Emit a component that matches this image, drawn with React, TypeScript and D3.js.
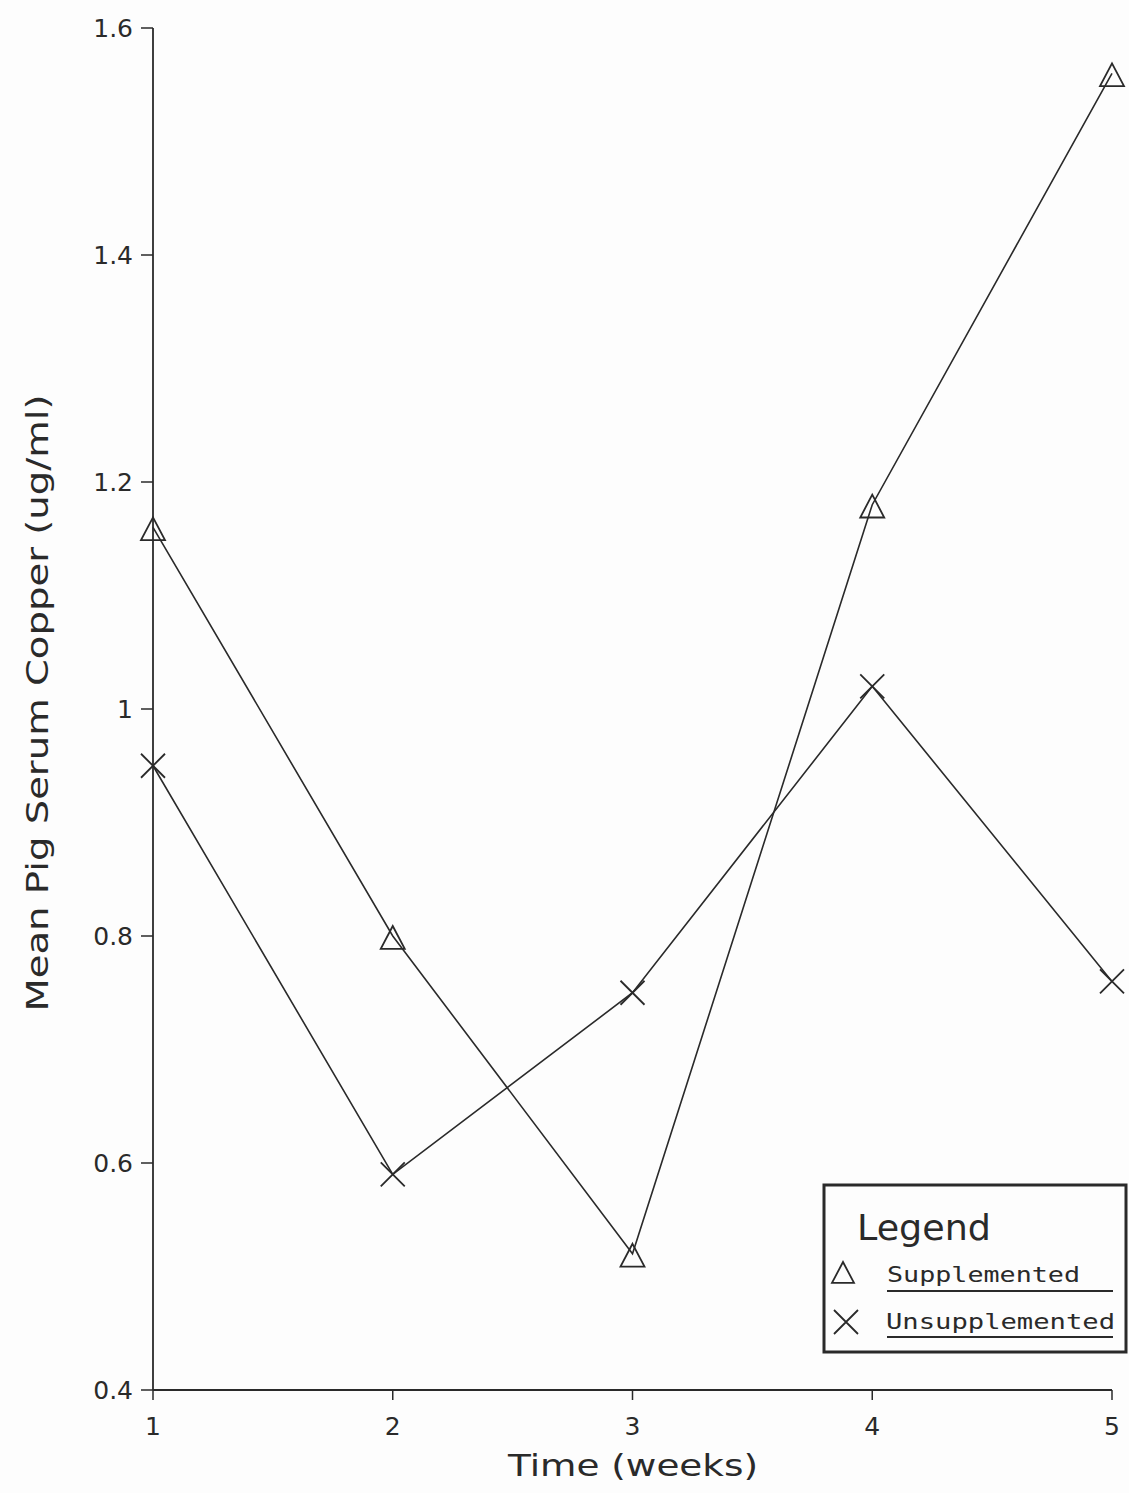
import React from "react";
import * as d3 from "d3";

const weeks = [1, 2, 3, 4, 5];
const supplemented = [1.16, 0.8, 0.52, 1.18, 1.56];
const unsupplemented = [0.95, 0.59, 0.75, 1.02, 0.76];
const yTicks = [0.4, 0.6, 0.8, 1, 1.2, 1.4, 1.6];
const xTicks = [1, 2, 3, 4, 5];
const seriesNames = ["Supplemented", "Unsupplemented"];

const W = 1129;
const H = 1493;
const INK = "#2a2a2a";
const FONT = "'DejaVu Sans', 'Open Sans', sans-serif";

export default function App() {
  const x = d3.scaleLinear().domain([1, 5]).range([153, 1112]);
  const y = d3.scaleLinear().domain([0.4, 1.6]).range([1390, 28]);
  const line = d3
    .line<number>()
    .x((_, i) => x(weeks[i]))
    .y((d) => y(d));

  const tri = (cx: number, cy: number, s = 12) =>
    `M${cx},${cy - s} L${cx + s},${cy + s * 0.9} L${cx - s},${cy + s * 0.9} Z`;
  const cross = (cx: number, cy: number, s = 12) =>
    `M${cx - s},${cy - s} L${cx + s},${cy + s} M${cx - s},${cy + s} L${cx + s},${cy - s}`;

  return (
    <svg
      width={W}
      height={H}
      style={{ position: "absolute", left: 0, top: 0, background: "#fdfdfd" }}
    >
      {/* axes */}
      <line x1={x(1)} x2={x(1)} y1={y(1.6)} y2={y(0.4)} stroke={INK} strokeWidth={1.8} />
      <line x1={x(1)} x2={x(5)} y1={y(0.4)} y2={y(0.4)} stroke={INK} strokeWidth={1.8} />
      {yTicks.map((t) => (
        <g key={"y" + t}>
          <line x1={x(1) - 12} x2={x(1)} y1={y(t)} y2={y(t)} stroke={INK} strokeWidth={1.5} />
          <text
            x={x(1) - 20}
            y={y(t)}
            dy="0.35em"
            textAnchor="end"
            fontFamily={FONT}
            fontSize={25}
            fill={INK}
          >
            {String(t)}
          </text>
        </g>
      ))}
      {xTicks.map((t) => (
        <g key={"x" + t}>
          <line x1={x(t)} x2={x(t)} y1={y(0.4)} y2={y(0.4) + 10} stroke={INK} strokeWidth={1.5} />
          <text
            x={x(t)}
            y={y(0.4) + 45}
            textAnchor="middle"
            fontFamily={FONT}
            fontSize={25}
            fill={INK}
          >
            {t}
          </text>
        </g>
      ))}
      <text
        x={633}
        y={1476}
        textAnchor="middle"
        fontFamily={FONT}
        fontSize={31}
        fill={INK}
        textLength={250}
        lengthAdjust="spacingAndGlyphs"
      >
        Time (weeks)
      </text>
      <text
        transform={`translate(48,703) rotate(-90)`}
        textAnchor="middle"
        fontFamily={FONT}
        fontSize={31}
        fill={INK}
        textLength={617}
        lengthAdjust="spacingAndGlyphs"
      >
        Mean Pig Serum Copper (ug/ml)
      </text>

      {/* lines */}
      <path d={line(supplemented) || ""} fill="none" stroke={INK} strokeWidth={1.6} />
      <path d={line(unsupplemented) || ""} fill="none" stroke={INK} strokeWidth={1.6} />
      {supplemented.map((v, i) => (
        <path
          key={"s" + i}
          d={tri(x(weeks[i]), y(v) + 2)}
          fill="none"
          stroke={INK}
          strokeWidth={1.8}
        />
      ))}
      {unsupplemented.map((v, i) => (
        <path
          key={"u" + i}
          d={cross(x(weeks[i]), y(v))}
          fill="none"
          stroke={INK}
          strokeWidth={1.8}
        />
      ))}

      {/* legend */}
      <rect x={824} y={1185} width={302} height={167} fill="#fdfdfd" stroke={INK} strokeWidth={3} />
      <text x={857} y={1240} fontFamily={FONT} fontSize={35} fill={INK} textLength={134} lengthAdjust="spacingAndGlyphs">
        Legend
      </text>
      <path d={tri(843, 1273, 11)} fill="none" stroke={INK} strokeWidth={1.8} />
      <text
        x={887}
        y={1282}
        fontFamily="'DejaVu Sans Mono', monospace"
        fontSize={22}
        fill={INK}
        textLength={193}
        lengthAdjust="spacingAndGlyphs"
      >
        {seriesNames[0]}
      </text>
      <line x1={887} x2={1113} y1={1291} y2={1291} stroke={INK} strokeWidth={1.8} />
      <path d={cross(846, 1322, 12)} fill="none" stroke={INK} strokeWidth={1.8} />
      <text
        x={886}
        y={1329}
        fontFamily="'DejaVu Sans Mono', monospace"
        fontSize={22}
        fill={INK}
        textLength={229}
        lengthAdjust="spacingAndGlyphs"
      >
        {seriesNames[1]}
      </text>
      <line x1={887} x2={1113} y1={1337} y2={1337} stroke={INK} strokeWidth={1.8} />
    </svg>
  );
}
